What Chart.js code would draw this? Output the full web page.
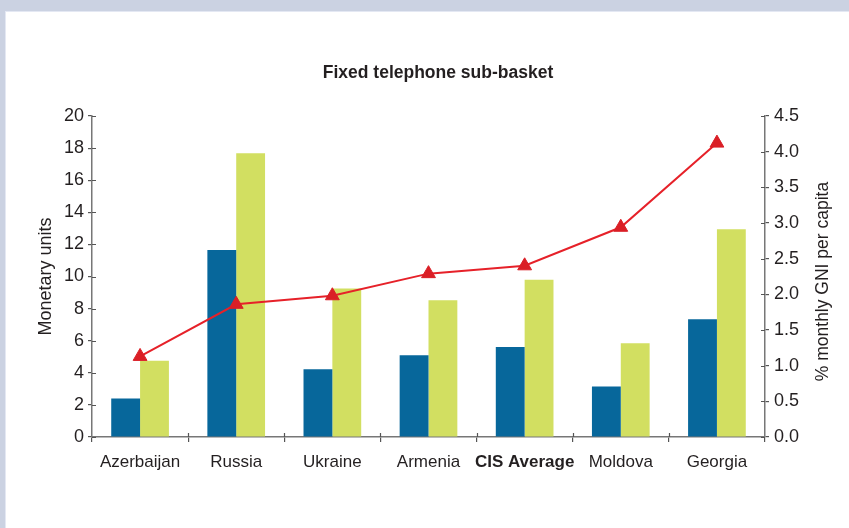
<!DOCTYPE html>
<html>
<head>
<meta charset="utf-8">
<script src="https://cdn.jsdelivr.net/npm/chart.js@4"></script>
<style>
  body { margin: 0; background: #cbd2e2; }
  #painel {
    position: absolute;
    left: 5px;
    top: 11px;
    width: 844px;
    height: 517px;
    background: #fff;
    box-shadow: inset 1px 1px 0 #e4e8f3;
  }
</style>
</head>
<body>
<div id="painel">
  <canvas id="grafico" width="844" height="517"></canvas>
</div>
<script>
// ======== Dados ========
const paises = ["Azerbaijan", "Russia", "Ukraine", "Armenia", "CIS Average", "Moldova", "Georgia"];
const valoresUSD = [2.4, 11.65, 4.22, 5.09, 5.61, 3.14, 7.33];
const valoresPPP = [4.75, 17.68, 9.26, 8.52, 9.8, 5.84, 12.94];
const percentualGNI = [1.13, 1.86, 1.98, 2.29, 2.4, 2.94, 4.12];

Chart.defaults.font.family = "'Liberation Sans', Arial, sans-serif";
Chart.defaults.color = "#231f20";

const corEixo = "#777777";

//Ticks que cruzam o eixo (parte interna)
const ticksCruzados = {
  id: "ticksCruzados",
  afterDraw(chart) {
    const ctx = chart.ctx;
    const { x, y, y1 } = chart.scales;
    ctx.save();
    ctx.strokeStyle = "#555";
    ctx.lineWidth = 1.2;
    ctx.beginPath();
    y.ticks.forEach((t, i) => {
      const py = Math.round(y.getPixelForTick(i)) + 0.5;
      ctx.moveTo(y.right, py);
      ctx.lineTo(y.right + 4, py);
    });
    y1.ticks.forEach((t, i) => {
      const py = Math.round(y1.getPixelForTick(i)) + 0.5;
      ctx.moveTo(y1.left, py);
      ctx.lineTo(y1.left - 4, py);
    });
    const n = x.ticks.length;
    for (let i = 1; i < n; i++) {
      const px = Math.round(x.left + (i * x.width) / n) + 0.5;
      ctx.moveTo(px, x.top);
      ctx.lineTo(px, x.top - 4);
    }
    ctx.stroke();
    ctx.restore();
  },
};

//Título do eixo direito (lido de baixo para cima)
const tituloDireito = {
  id: "tituloDireito",
  afterDraw(chart) {
    const ctx = chart.ctx;
    const area = chart.chartArea;
    ctx.save();
    ctx.translate(818, (area.top + area.bottom) / 2 + 5);
    ctx.rotate(-Math.PI / 2);
    ctx.font = "17.5px 'Liberation Sans', Arial, sans-serif";
    ctx.fillStyle = "#231f20";
    ctx.textAlign = "center";
    ctx.textBaseline = "middle";
    ctx.fillText("% monthly GNI per capita", 0, 0);
    ctx.restore();
  },
};

const ctx = document.getElementById("grafico").getContext("2d");
new Chart(ctx, {
  type: "bar",
  data: {
    labels: paises,
    datasets: [
      {
        type: "line",
        label: "% monthly GNI per capita",
        data: percentualGNI,
        yAxisID: "y1",
        borderColor: "#e62129",
        borderWidth: 2,
        pointStyle: "triangle",
        pointRadius: 8,
        pointBackgroundColor: "#da1f26",
        pointBorderColor: "#da1f26",
        pointBorderWidth: 1,
        tension: 0,
        order: 0,
      },
      {
        label: "USD",
        data: valoresUSD,
        backgroundColor: "#07679b",
        categoryPercentage: 0.6,
        barPercentage: 1,
        order: 1,
      },
      {
        label: "PPP$",
        data: valoresPPP,
        backgroundColor: "#d2df61",
        categoryPercentage: 0.6,
        barPercentage: 1,
        order: 1,
      },
    ],
  },
  options: {
    responsive: false,
    animation: false,
    layout: { padding: { left: 22, right: 0, top: 0, bottom: 0 } },
    plugins: {
      legend: { display: false },
      tooltip: { enabled: false },
      title: {
        display: true,
        text: "Fixed telephone sub-basket",
        color: "#231f20",
        font: { size: 17.5, weight: "bold" },
        padding: { top: 52, bottom: 32 },
      },
    },
    scales: {
      x: {
        grid: {
          offset: true,
          drawOnChartArea: false,
          tickLength: 5,
          color: "#555",
          lineWidth: 1.2,
        },
        border: { color: corEixo, width: 1.5 },
        ticks: {
          padding: 10,
          maxRotation: 0,
          autoSkip: false,
          font: (c) => (c.index === 4 ? { size: 17, weight: "bold" } : { size: 17 }),
        },
        afterFit: (s) => { s.height = 91; },
      },
      y: {
        position: "left",
        min: 0,
        max: 20,
        ticks: { stepSize: 2, padding: 4, font: { size: 18 } },
        grid: { drawOnChartArea: false, tickLength: 4, color: "#555", lineWidth: 1.2 },
        border: { color: corEixo, width: 1.5 },
        title: {
          display: true,
          text: "Monetary units",
          font: { size: 18 },
          padding: { top: 8, bottom: 0 },
        },
        afterFit: (s) => { s.width = 65; },
      },
      y1: {
        position: "right",
        min: 0,
        max: 4.5,
        ticks: {
          stepSize: 0.5,
          padding: 5,
          font: { size: 18 },
          callback: (v) => v.toFixed(1),
        },
        grid: { drawOnChartArea: false, tickLength: 4, color: "#555", lineWidth: 1.2 },
        border: { color: corEixo, width: 1.5 },
        afterFit: (s) => { s.width = 84; },
      },
    },
  },
  plugins: [ticksCruzados, tituloDireito],
});
</script>
</body>
</html>
